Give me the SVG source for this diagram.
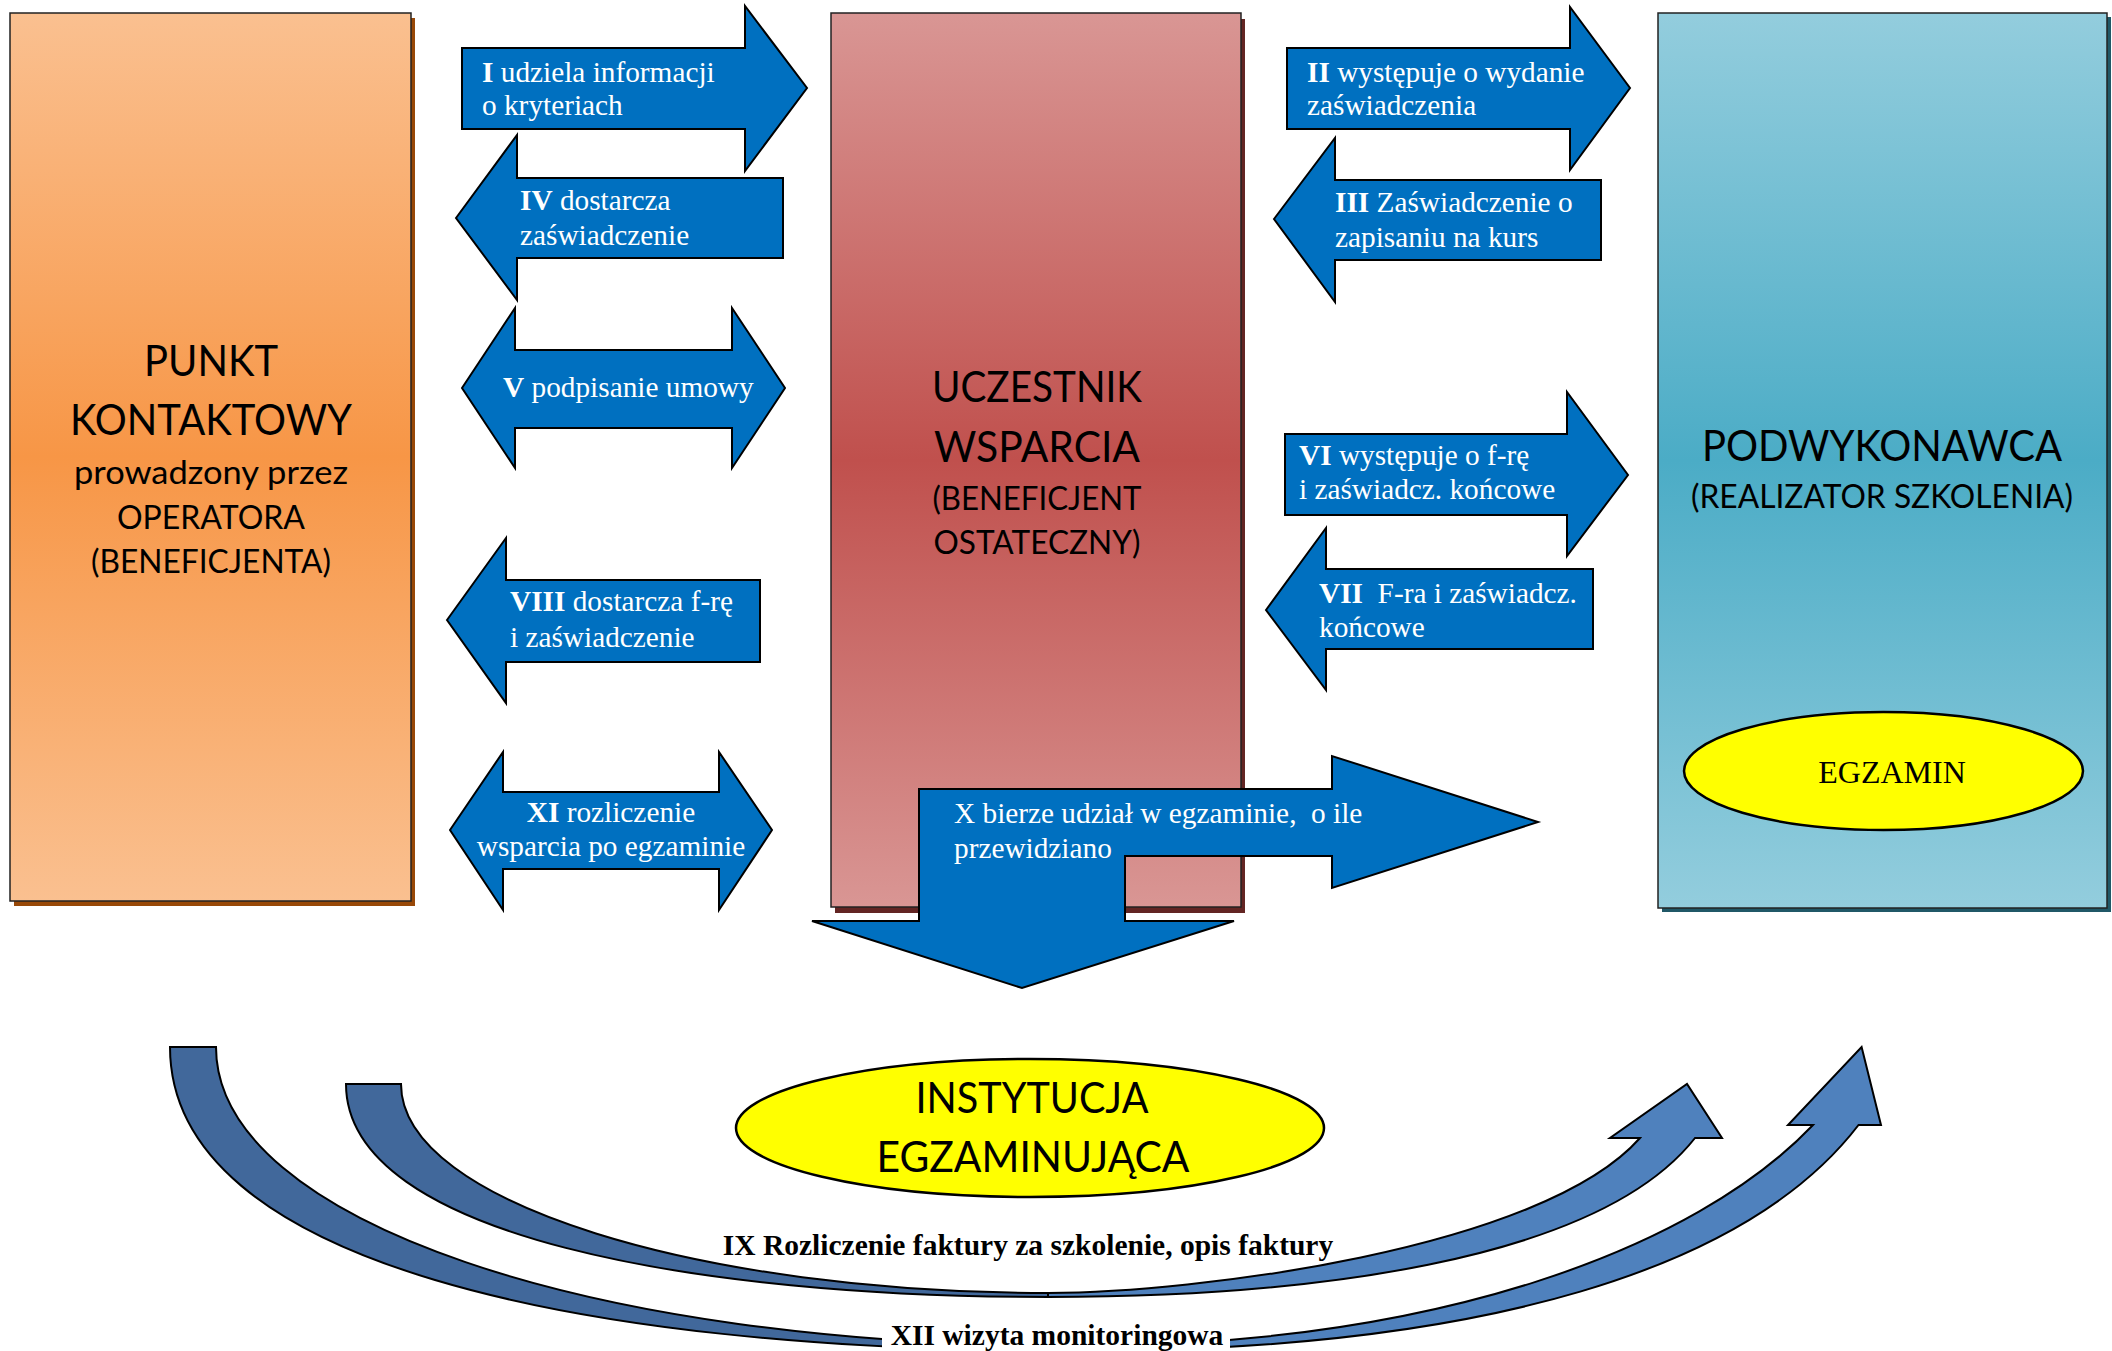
<svg xmlns="http://www.w3.org/2000/svg" width="2112" height="1351" viewBox="0 0 2112 1351">
<defs>
<linearGradient id="gOrange" x1="0" y1="0" x2="0" y2="1">
<stop offset="0" stop-color="#FAC090"/><stop offset="0.5" stop-color="#F79646"/><stop offset="1" stop-color="#FAC090"/>
</linearGradient>
<linearGradient id="gRed" x1="0" y1="0" x2="0" y2="1">
<stop offset="0" stop-color="#D99694"/><stop offset="0.5" stop-color="#C0504D"/><stop offset="1" stop-color="#D99694"/>
</linearGradient>
<linearGradient id="gBlue" x1="0" y1="0" x2="0" y2="1">
<stop offset="0" stop-color="#93CDDD"/><stop offset="0.5" stop-color="#4BACC6"/><stop offset="1" stop-color="#93CDDD"/>
</linearGradient>
</defs>
<style>
.box{stroke:#222;stroke-width:1.5}
.blk{fill:#0070C0;stroke:#000;stroke-width:2}
.at{font-family:"Liberation Serif","Times New Roman",serif;font-size:29.3px;fill:#fff}
.b{font-weight:bold}
.ttl{font-family:Lato,"Open Sans",sans-serif;fill:#000;text-anchor:middle}
.big{font-size:42.7px}
.sm{font-size:33px}
.dk{fill:#41689B;stroke:#000;stroke-width:2}
.lt{fill:#4F81BD;stroke:#000;stroke-width:2}
.yel{fill:#FFFF00;stroke:#000;stroke-width:2.5}
.cap{font-family:"Liberation Serif","Times New Roman",serif;font-size:29.5px;font-weight:bold;fill:#000;text-anchor:middle}
</style>
<rect width="2112" height="1351" fill="#fff"/>

<g id="punkt-kontaktowy">
<rect x="14" y="18" width="401" height="888" fill="#984807"/>
<rect class="box" x="10" y="13" width="401" height="888" fill="url(#gOrange)"/>
<text class="ttl big" x="211" y="376" textLength="134" lengthAdjust="spacingAndGlyphs">PUNKT</text>
<text class="ttl big" x="211" y="435" textLength="282" lengthAdjust="spacingAndGlyphs">KONTAKTOWY</text>
<text class="ttl sm" x="211" y="484" textLength="274" lengthAdjust="spacingAndGlyphs">prowadzony przez</text>
<text class="ttl sm" x="211" y="529" textLength="188" lengthAdjust="spacingAndGlyphs">OPERATORA</text>
<text class="ttl sm" x="211" y="573" textLength="240" lengthAdjust="spacingAndGlyphs">(BENEFICJENTA)</text>
</g>

<g id="uczestnik-wsparcia">
<rect x="835" y="19" width="410" height="894" fill="#632523"/>
<rect class="box" x="831" y="13" width="410" height="894" fill="url(#gRed)"/>
<text class="ttl big" x="1037" y="402" textLength="210" lengthAdjust="spacingAndGlyphs">UCZESTNIK</text>
<text class="ttl big" x="1037" y="462" textLength="206" lengthAdjust="spacingAndGlyphs">WSPARCIA</text>
<text class="ttl sm" x="1037" y="510" textLength="209" lengthAdjust="spacingAndGlyphs">(BENEFICJENT</text>
<text class="ttl sm" x="1037" y="554" textLength="207" lengthAdjust="spacingAndGlyphs">OSTATECZNY)</text>
</g>

<g id="podwykonawca">
<rect x="1662" y="17" width="449" height="895" fill="#205867"/>
<rect class="box" x="1658" y="13" width="449" height="895" fill="url(#gBlue)"/>
<text class="ttl big" x="1882" y="461" textLength="360" lengthAdjust="spacingAndGlyphs">PODWYKONAWCA</text>
<text class="ttl sm" x="1882" y="508" textLength="382" lengthAdjust="spacingAndGlyphs">(REALIZATOR SZKOLENIA)</text>
</g>

<g id="egzamin">
<ellipse class="yel" cx="1883.5" cy="771" rx="199.5" ry="59"/>
<text x="1892" y="783" font-family="'Liberation Serif','Times New Roman',serif" font-size="32" text-anchor="middle" fill="#000">EGZAMIN</text>
</g>

<g id="instytucja-egzaminujaca">
<ellipse class="yel" cx="1030" cy="1128" rx="294" ry="69"/>
<text class="ttl big" x="1032" y="1113" textLength="233" lengthAdjust="spacingAndGlyphs">INSTYTUCJA</text>
<text class="ttl big" x="1033" y="1172" textLength="313" lengthAdjust="spacingAndGlyphs">EGZAMINUJĄCA</text>
</g>

<g id="connectors">
<g id="arrow-I">
<polygon class="blk" points="462,48 745,48 745,6 807,88 745,171 745,129 462,129"/>
<text class="at" x="482" y="82"><tspan class="b">I</tspan> udziela informacji</text>
<text class="at" x="482" y="115">o kryteriach</text>
</g>
<g id="arrow-IV">
<polygon class="blk" points="456,218 517,135 517,178 783,178 783,258 517,258 517,300"/>
<text class="at" x="520" y="210"><tspan class="b">IV</tspan> dostarcza</text>
<text class="at" x="520" y="245">zaświadczenie</text>
</g>
<g id="arrow-V">
<polygon class="blk" points="462,388 515,308 515,350 732,350 732,308 785,388 732,468 732,428 515,428 515,468"/>
<text class="at" x="503" y="397"><tspan class="b">V</tspan> podpisanie umowy</text>
</g>
<g id="arrow-VIII">
<polygon class="blk" points="447,620 506,538 506,580 760,580 760,662 506,662 506,703"/>
<text class="at" x="510" y="611"><tspan class="b">VIII</tspan> dostarcza f-rę</text>
<text class="at" x="510" y="647">i zaświadczenie</text>
</g>
<g id="arrow-XI">
<polygon class="blk" points="450,830 503,752 503,792 719,792 719,752 772,830 719,910 719,869 503,869 503,910"/>
<text class="at" x="611" y="822" text-anchor="middle"><tspan class="b">XI</tspan> rozliczenie</text>
<text class="at" x="611" y="856" text-anchor="middle">wsparcia po egzaminie</text>
</g>
<g id="arrow-II">
<polygon class="blk" points="1287,48 1570,48 1570,7 1630,88 1570,170 1570,129 1287,129"/>
<text class="at" x="1307" y="82"><tspan class="b">II</tspan> występuje o wydanie</text>
<text class="at" x="1307" y="115">zaświadczenia</text>
</g>
<g id="arrow-III">
<polygon class="blk" points="1274,219 1335,138 1335,180 1601,180 1601,260 1335,260 1335,302"/>
<text class="at" x="1335" y="212"><tspan class="b">III</tspan> Zaświadczenie o</text>
<text class="at" x="1335" y="247">zapisaniu na kurs</text>
</g>
<g id="arrow-VI">
<polygon class="blk" points="1285,434 1567,434 1567,392 1628,475 1567,556 1567,515 1285,515"/>
<text class="at" x="1299" y="465"><tspan class="b">VI</tspan> występuje o f-rę</text>
<text class="at" x="1299" y="499">i zaświadcz. końcowe</text>
</g>
<g id="arrow-VII">
<polygon class="blk" points="1266,610 1326,528 1326,569 1593,569 1593,649 1326,649 1326,690"/>
<text class="at" x="1319" y="603" xml:space="preserve"><tspan class="b">VII</tspan>  F-ra i zaświadcz.</text>
<text class="at" x="1319" y="637">końcowe</text>
</g>
<g id="arrow-X">
<polygon class="blk" points="919,789 1332,789 1332,756 1538,822 1332,888 1332,856 1125,856 1125,921 1234,921 1022,988 812,921 919,921"/>
<text class="at" x="954" y="823" xml:space="preserve">X bierze udział w egzaminie,  o ile</text>
<text class="at" x="954" y="858">przewidziano</text>
</g>
<g id="arrow-IX">
<path class="lt" d="M1048,1297 C1298,1297 1596,1264 1695,1138 L1722,1138 L1687,1084 L1610,1138 L1640,1138 C1541,1250 1192,1293 1048,1293 Z"/>
<path class="dk" d="M346,1084 L401,1084 C401,1204 705,1293 1048,1293 L1048,1297 C698,1297 346,1237 346,1084 Z"/>
<text class="cap" x="1028" y="1255">IX Rozliczenie faktury za szkolenie, opis faktury</text>
</g>
<g id="arrow-XII">
<path class="lt" d="M1075,1351 C1487,1351 1749,1268 1858.5,1125 L1881,1125 L1861.6,1047 L1788,1125 L1813,1125 C1696,1248 1438,1346 1075,1346 Z"/>
<path class="dk" d="M170,1047 L216,1047 C216,1222 595,1346 1075,1346 L1075,1351 C575,1351 170,1263 170,1047 Z"/>
<rect x="882" y="1320" width="348" height="31" fill="#fff"/>
<text class="cap" x="1057" y="1345">XII wizyta monitoringowa</text>
</g>
</g>
</svg>
